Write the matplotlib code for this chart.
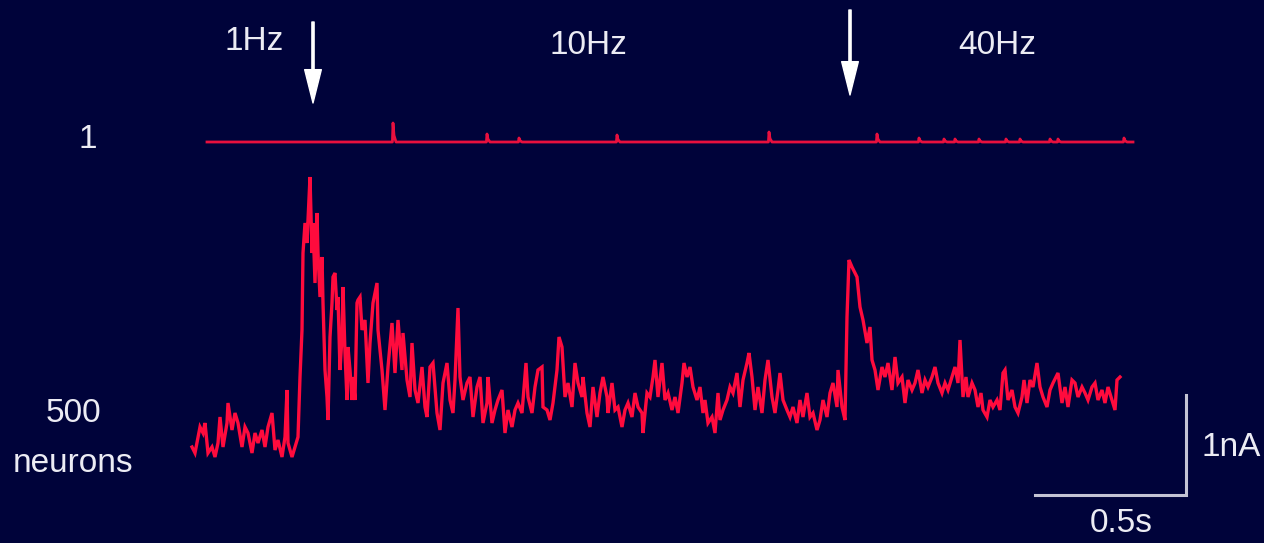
import numpy as np
import matplotlib
matplotlib.use("Agg")
import matplotlib.pyplot as plt

plt.rcParams["font.family"] = ["Liberation Sans", "DejaVu Sans"]

DT_MS = 500.0 / 151.0

# Population (500 neurons) current, pA, at sample indices
pop_samples = [
    0, 3, 8, 11, 13, 16, 20, 23, 26, 28, 31, 35, 36, 40, 43, 46, 50, 53, 56, 60,
    63, 66, 70, 73, 76, 80, 83, 86, 90, 93, 95, 96, 100, 103, 106, 108, 110, 111, 113, 115,
    116, 118, 120, 121, 123, 125, 126, 128, 130, 131, 133, 135, 136, 138, 140, 141, 143, 145, 146, 148,
    150, 151, 153, 155, 156, 158, 160, 161, 163, 165, 166, 168, 170, 173, 176, 178, 181, 185, 186,
    190, 193, 196, 200, 203, 206, 210, 211, 215, 218, 220, 223, 226, 230, 233, 235, 238, 241, 245, 248,
    251, 255, 258, 261, 263, 266, 268, 271, 275, 278, 281, 285, 288, 291, 295, 296, 300, 303, 306, 310,
    313, 316, 320, 323, 326, 330, 334, 336, 340, 343, 346, 350, 351, 355, 358, 361, 365, 367, 370, 373,
    376, 380,
    383, 386, 390, 391, 395, 398, 401, 405, 408, 411, 415, 416, 420, 423, 426, 430, 433, 436, 440, 443,
    446, 450, 451, 455, 458, 461, 463, 466, 470, 473, 476, 480, 483, 486, 490, 492, 495, 498, 501, 505,
    508, 511, 513, 516, 520, 523, 526, 528, 531, 535, 538, 541, 545, 548, 551, 555, 557, 560, 563, 566,
    570, 573, 576,
    580, 583, 586, 588, 591, 595, 598, 601, 605, 608, 611, 615, 618, 621, 625, 628, 631, 635, 638, 641,
    645, 646, 650, 653, 655, 657, 660, 663, 665, 668, 671, 675, 678, 680, 683, 686, 690, 693, 696, 700,
    703, 706, 710, 713, 716, 720, 723, 726, 730, 733, 736, 740, 743, 746, 750, 753, 756, 760, 763, 766,
    768, 771, 774, 776, 780, 783, 786, 789, 791, 795, 798, 801, 805, 808, 811, 813, 816, 820, 823, 826,
    830, 832, 835, 838, 841, 845, 848, 851, 855, 858, 861, 866, 870, 873, 876, 880, 883, 886, 890, 893,
    896, 900, 903, 906, 910, 913, 916, 920, 923, 925, 928,
]
pop_current_pa = [
    130, 70, 330, 270, 370, 70, 130, 30, 170, 430, 130, 370, 570, 300, 470, 370, 130, 330, 270, 70,
    270, 170, 300, 130, 330, 470, 100, 200, 30, 230, 700, 170, 30, 130, 230, 830, 1300, 2070, 2370, 2170,
    2400, 2830, 2070, 2370, 1770, 2470, 2070, 1630, 2030, 1570, 900, 630, 400, 1230, 1570, 1830, 1870, 1500, 1630, 900,
    1230, 1730, 1070, 600, 1130, 900, 600, 830, 600, 1570, 1600, 1630, 1300, 1400, 770, 1170, 1570, 1770, 1300,
    900, 500, 930, 1370, 870, 1400, 900, 1270, 800, 630, 1170, 700, 570, 930, 530, 430, 930, 970, 470, 300,
    770, 970, 600, 470, 800, 1520, 830, 600, 770, 830, 430, 730, 830, 370, 570, 830, 370, 500, 600, 700,
    270, 500, 330, 500, 570, 470, 970, 630, 470, 730, 900, 930, 530, 500, 400, 570, 900, 1230, 1130, 630,
    770, 530,
    970, 770, 630, 830, 470, 330, 730, 430, 670, 830, 630, 470, 770, 500, 530, 330, 500, 570, 430, 670,
    530, 470, 270, 670, 630, 830, 1000, 630, 970, 600, 670, 500, 630, 470, 770, 970, 830, 930, 730, 600,
    730, 470, 600, 370, 430, 270, 670, 400, 500, 600, 730, 670, 870, 530, 800, 970, 1070, 830, 500, 730,
    470, 800, 1000,
    630, 470, 700, 870, 600, 500, 430, 530, 370, 600, 430, 670, 430, 470, 300, 400, 600, 430, 670, 770,
    530, 900, 530, 400, 1430, 2000, 1930, 1870, 1830, 1530, 1400, 1170, 1330, 1000, 900, 700, 930, 830, 970, 700,
    1030, 770, 830, 570, 800, 700, 770, 900, 670, 800, 730, 830, 930, 770, 670, 770, 700, 830, 930, 770,
    1200, 630, 830, 630, 770, 700, 530, 670, 500, 430, 600, 530, 600, 500, 870, 900, 600, 700, 530, 470,
    630, 800, 570, 800, 730, 970, 730, 630, 530, 700, 770, 870, 570, 730, 530, 800, 770, 630, 730, 670,
    600, 730, 770, 600, 700, 570, 730, 600, 500, 800, 830,
]

# Single neuron trace: flat baseline with brief spikes
single_start, single_end = 15, 941
single_spike_samples = [201, 295, 327, 425, 577, 685, 727, 752, 763, 787, 814, 828, 858, 866, 932]
single_spike_pa = [190, 80, 40, 70, 100, 80, 40, 30, 30, 30, 30, 30, 30, 30, 40]

stim_labels = ["1Hz", "10Hz", "40Hz"]

BG = "#00033a"
RED = "#ff0b3d"
TXT = "#ececf4"
W, H = 1264, 543


def px(x, y):
    # figure pixel (from top-left) -> figure fraction
    return x / W, 1 - y / H


fig = plt.figure(figsize=(W / 100, H / 100), dpi=100, facecolor=BG)
ax = fig.add_axes([0, 0, 1, 1])
ax.set_facecolor(BG)
ax.set_xlim(-192 * DT_MS, (W - 192) * DT_MS)
ax.set_ylim(-830, 4600)
ax.axis("off")

# population trace
t_pop = np.array(pop_samples) * DT_MS
ax.plot(t_pop, pop_current_pa, color=RED, lw=2.4, solid_joinstyle="miter")

# single neuron trace, offset above
TOP_OFFSET = 3180
st, si = [single_start], [0]
for s, h in zip(single_spike_samples, single_spike_pa):
    st += [s - 0.6, s, s + 1.0, s + 3.0]
    si += [0, h, h * 0.35, 0]
st.append(single_end)
si.append(0)
ax.plot(np.array(st) * DT_MS, np.array(si) + TOP_OFFSET, color="#e8103e", lw=2.0)

# scale bars: 0.5 s and 1 nA
bar_end = 3290
ax.plot([bar_end - 500, bar_end, bar_end], [-350, -350, -350 + 1000],
        color="#c4c4d4", lw=2.2, solid_joinstyle="miter")

fs = 24
for lab, (x, y) in zip(stim_labels, [(254, 42), (588, 46), (997, 46)]):
    fig.text(*px(x, y), lab, color=TXT, fontsize=fs, ha="center", va="center")
fig.text(*px(88, 140), "1", color=TXT, fontsize=fs, ha="center", va="center")
fig.text(*px(73, 413), "500", color=TXT, fontsize=fs, ha="center", va="center")
fig.text(*px(73, 463), "neurons", color=TXT, fontsize=fs, ha="center", va="center")
fig.text(*px(1202, 448), "1nA", color=TXT, fontsize=fs, ha="left", va="center")
fig.text(*px(1121, 523), "0.5s", color=TXT, fontsize=fs, ha="center", va="center")

# stimulus onset arrows
for x, y0, y1 in [(313, 22, 103), (850, 10, 95)]:
    ax.annotate("", xy=px(x, y1), xytext=px(x, y0),
                xycoords="figure fraction", textcoords="figure fraction",
                arrowprops=dict(facecolor="white", edgecolor="white", width=1.6,
                                headwidth=12, headlength=24, shrink=0))

fig.savefig("out.png", dpi=100, facecolor=BG)
